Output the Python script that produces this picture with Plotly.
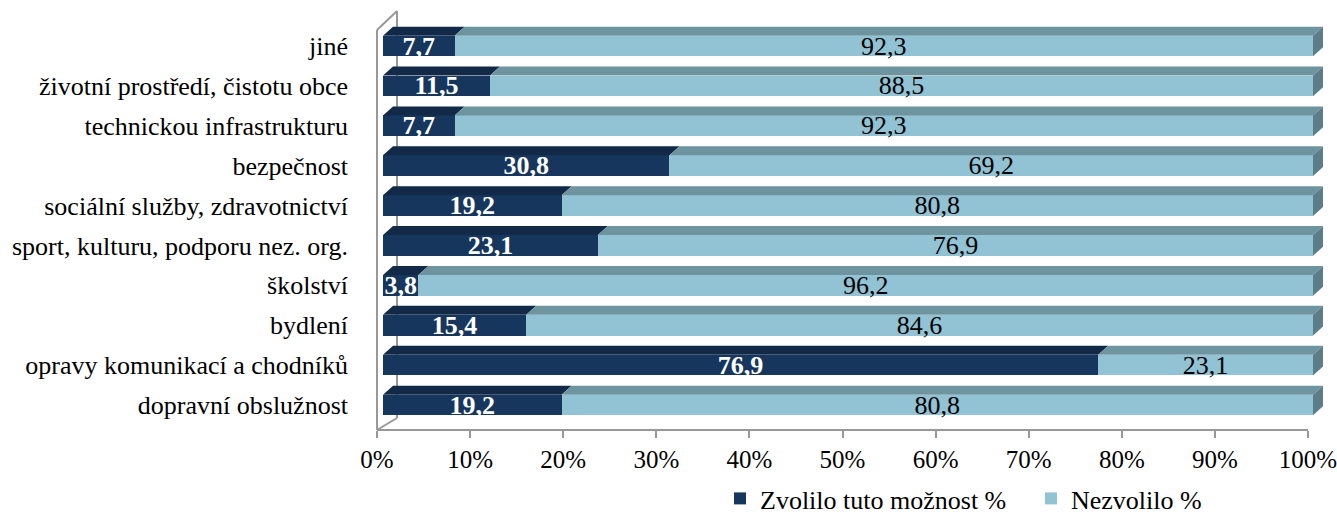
import plotly.graph_objects as go

# ---------------- data ----------------
categories = ["dopravní obslužnost", "opravy komunikací a chodníků", "bydlení", "školství",
              "sport, kulturu, podporu nez. org.", "sociální služby, zdravotnictví",
              "bezpečnost", "technickou infrastrukturu", "životní prostředí, čistotu obce", "jiné"]
zvolilo = [19.2, 76.9, 15.4, 3.8, 23.1, 19.2, 30.8, 7.7, 11.5, 7.7]
nezvolilo = [80.8, 23.1, 84.6, 96.2, 76.9, 80.8, 69.2, 92.3, 88.5, 92.3]
series_names = ["Zvolilo tuto možnost %", "Nezvolilo %"]
x_ticks = [0, 10, 20, 30, 40, 50, 60, 70, 80, 90, 100]

# ---------------- layout constants ----------------
W, H = 1337, 522
FONT = '"Liberation Serif", "Times New Roman", serif'
X0_PX, X100_PX = 383, 1313
XPER = (X100_PX - X0_PX) / 100.0
X_MAX = 101.3
Y0_PX, Y9_PX = 405, 46
YPER = (Y0_PX - Y9_PX) / 9.0
Y_BOT_PX, Y_TOP_PX = 432, 20
BAR_W = 0.52
DX = 10 / XPER
DY = 9 / YPER

C_DARK, C_DARK_TOP = "#17365D", "#122A48"
C_LIGHT, C_LIGHT_TOP, C_LIGHT_SIDE = "#92C3D4", "#6E94A0", "#5D7E88"
C_AXIS = "#989898"

ypos = list(range(len(categories)))

fig = go.Figure()

fig.add_trace(go.Bar(
    y=ypos, x=zvolilo, orientation="h", name=series_names[0], width=BAR_W,
    marker=dict(color=C_DARK, line=dict(width=0)),
    texttemplate="<b>%{x:.1f}</b>", textposition="inside", insidetextanchor="middle",
    textangle=0, constraintext="none",
    textfont=dict(family=FONT, size=26, color="white"), hoverinfo="skip"))
fig.add_trace(go.Bar(
    y=ypos, x=nezvolilo, orientation="h", name=series_names[1], width=BAR_W,
    marker=dict(color=C_LIGHT, line=dict(width=0)),
    texttemplate="%{x:.1f}", textposition="inside", insidetextanchor="middle",
    textangle=0, constraintext="none",
    textfont=dict(family=FONT, size=26, color="black"), hoverinfo="skip"))

# 3D top faces and right side, derived from the data
def top_poly(x0, x1, yc):
    yt = yc + BAR_W / 2
    return [x0, x1, x1 + DX, x0 + DX, x0, None], [yt, yt, yt + DY, yt + DY, yt, None]

dx_, dy_, lx_, ly_, sx_, sy_ = [], [], [], [], [], []
for i, (a, b) in enumerate(zip(zvolilo, nezvolilo)):
    px, py = top_poly(0, a, i)
    dx_ += px; dy_ += py
    px, py = top_poly(a, a + b, i)
    lx_ += px; ly_ += py
    e = a + b
    yt, yb = i + BAR_W / 2, i - BAR_W / 2
    sx_ += [e, e + DX, e + DX, e, e, None]
    sy_ += [yt, yt + DY, yb + DY, yb, yt, None]

for xs, ys, col in [(dx_, dy_, C_DARK_TOP), (lx_, ly_, C_LIGHT_TOP), (sx_, sy_, C_LIGHT_SIDE)]:
    fig.add_trace(go.Scatter(x=xs, y=ys, mode="lines", fill="toself", fillcolor=col,
                             line=dict(width=0, color=col), showlegend=False, hoverinfo="skip"))

# dummy for floor axis
fig.add_trace(go.Scatter(x=[], y=[], xaxis="x2", yaxis="y", showlegend=False, hoverinfo="skip"))

def px_x(p): return p / W
def px_y(p): return (H - p) / H

y_lo = -(Y_BOT_PX - Y0_PX) / YPER
y_hi = 9 + (Y9_PX - Y_TOP_PX) / YPER

shapes = []
for (xa, ya, xb, yb, layer) in [(377, 30, 377, 430, "above"), (377, 30, 397, 11, "above"),
                                (397, 11, 397, 418, "below"), (377, 430, 397, 418, "below")]:
    shapes.append(dict(type="line", xref="paper", yref="paper", x0=px_x(xa), y0=px_y(ya),
                       x1=px_x(xb), y1=px_y(yb), line=dict(color=C_AXIS, width=2), layer=layer))

fig.update_layout(
    width=W, height=H, barmode="stack", separators=", ",
    paper_bgcolor="white", plot_bgcolor="rgba(0,0,0,0)",
    margin=dict(l=0, r=0, t=0, b=0, autoexpand=False),
    font=dict(family=FONT, size=26, color="black"),
    xaxis=dict(domain=[px_x(X0_PX), px_x(X0_PX + X_MAX * XPER)], range=[0, X_MAX],
               visible=False, fixedrange=True),
    xaxis2=dict(domain=[px_x(377), px_x(1308)], range=[0, 100], anchor="free",
                position=px_y(430), showline=True, linecolor=C_AXIS, linewidth=2,
                ticks="outside", ticklen=7, tickwidth=2, tickcolor=C_AXIS,
                tickvals=x_ticks, ticktext=[f"{v}%" for v in x_ticks],
                ticklabeloverflow="allow",
                tickfont=dict(family=FONT, size=25), showgrid=False, zeroline=False),
    yaxis=dict(domain=[px_y(Y_BOT_PX), px_y(Y_TOP_PX)], range=[y_lo, y_hi],
               tickvals=ypos, ticktext=categories, showgrid=False, zeroline=False,
               showline=False, ticks="", ticklabelstandoff=34,
               tickfont=dict(family=FONT, size=26)),
    shapes=shapes,
    showlegend=True,
    legend=dict(orientation="h", x=px_x(720), xanchor="left", y=0, yanchor="bottom",
                font=dict(family=FONT, size=26), bgcolor="rgba(0,0,0,0)", traceorder="normal",
                entrywidth=266, entrywidthmode="pixels"),
)

fig.write_html("out.html", config={"displayModeBar": False},
               post_script="document.body.style.margin='0';document.body.style.overflow='hidden';")
